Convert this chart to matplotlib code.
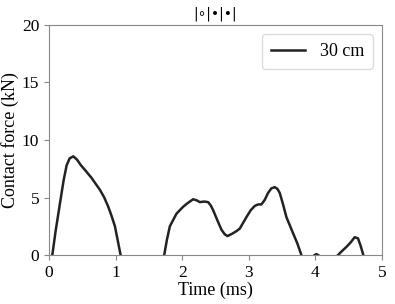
import matplotlib
matplotlib.use("Agg")
import matplotlib.pyplot as plt

# contact force pulses (time in ms, force in kN)
t1 = [0.05, 0.10, 0.165, 0.22, 0.265, 0.31, 0.365, 0.42, 0.48, 0.54, 0.64, 0.70, 0.765, 0.83, 0.89, 0.94, 0.99, 1.035, 1.075]
f1 = [0.0, 2.1, 4.5, 6.5, 7.8, 8.4, 8.58, 8.3, 7.8, 7.4, 6.7, 6.2, 5.67, 5.0, 4.2, 3.4, 2.5, 1.2, 0.0]

t2 = [1.73, 1.77, 1.815, 1.915, 2.015, 2.09, 2.165, 2.22, 2.265, 2.33, 2.39, 2.43, 2.465, 2.53, 2.59, 2.64, 2.68, 2.75, 2.82, 2.865,
      2.965, 3.03, 3.09, 3.14, 3.19, 3.24, 3.29, 3.34, 3.39, 3.43, 3.465, 3.515, 3.565, 3.665, 3.73, 3.79]
f2 = [0.0, 1.3, 2.5, 3.6, 4.2, 4.55, 4.85, 4.75, 4.6, 4.65, 4.6, 4.3, 3.9, 3.0, 2.2, 1.8, 1.65, 1.85, 2.1, 2.3,
      3.3, 3.9, 4.27, 4.4, 4.4, 4.8, 5.4, 5.8, 5.9, 5.75, 5.4, 4.4, 3.3, 1.9, 1.0, 0.0]

t3 = [3.99, 4.015, 4.04]
f3 = [0.0, 0.08, 0.0]

t4 = [4.34, 4.40, 4.465, 4.53, 4.59, 4.64, 4.68, 4.72]
f4 = [0.0, 0.35, 0.7, 1.1, 1.55, 1.45, 0.8, 0.0]

plt.rcParams['font.family'] = ['Liberation Serif', 'DejaVu Serif']

fig = plt.figure(figsize=(3.95, 3.04), dpi=100)
ax = fig.add_axes([0.124, 0.161, 0.843, 0.757])

col = '#222222'
ax.plot(t1, f1, color=col, lw=1.8, label='30 cm')
for t, f in [(t2, f2), (t3, f3), (t4, f4)]:
    ax.plot(t, f, color=col, lw=1.8)

ax.set_xlim(0, 5)
ax.set_ylim(0, 20)
ax.set_xticks([0, 1, 2, 3, 4, 5])
ax.set_yticks([0, 5, 10, 15, 20])
ax.tick_params(labelsize=12.5, color='#888888', length=3.5)
for s in ax.spines.values():
    s.set_color('#888888')

ax.set_xlabel('Time (ms)', fontsize=13, labelpad=1)
ax.set_ylabel('Contact force (kN)', fontsize=13, labelpad=2)
ax.set_title('|∘|•|•|', fontsize=10, family=['DejaVu Sans'], pad=5)

ax.legend(loc='upper right', fontsize=13, handlelength=1.9, framealpha=1,
          edgecolor='#dddddd', borderpad=0.5)

fig.savefig('out.png', dpi=100)
